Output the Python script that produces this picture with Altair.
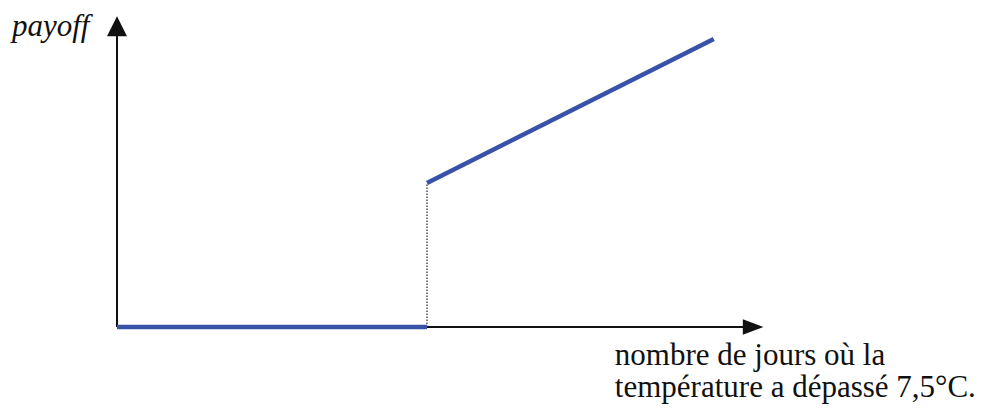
import altair as alt
import pandas as pd

# Payoff segments (x in days, y in payoff units)
seg_id = ["flat", "flat", "rise", "rise"]
seg_x = [0, 10, 10, 19.25]
seg_y = [0, 0, 5, 10]

# Strike marker (dotted vertical)
strike_x = [10]
strike_y0 = [0]
strike_y1 = [5]

# Axes
axis_x0 = [0, 0]
axis_y0 = [0, 0]
axis_x1 = [20.26, 0]
axis_y1 = [0, 10.2]

arrow_x = [20.52, 0]
arrow_y = [0, 10.44]
arrow_shape = ["M-1,-0.75L1,0L-1,0.75Z", "M-1,1L1,1L0,-1Z"]
arrow_size = [424, 400]

ylabel = ["payoff"]
ylabel_x = [-3.39]
ylabel_y = [10.10]

xlabel = ["nombre de jours où la", "température a dépassé 7,5°C."]
xlabel_x = [16.06, 16.06]
xlabel_y = [-1.33, -2.44]

xs = alt.Scale(domain=[-3.258, 27.645], nice=False, zero=False)
ys = alt.Scale(domain=[-2.396, 10.799], nice=False, zero=False)

axes_df = pd.DataFrame({"x": axis_x0, "y": axis_y0, "x2": axis_x1, "y2": axis_y1})
axes = alt.Chart(axes_df).mark_rule(color="#111111", strokeWidth=2).encode(
    x=alt.X("x:Q", scale=xs, axis=None),
    y=alt.Y("y:Q", scale=ys, axis=None),
    x2="x2:Q",
    y2="y2:Q",
)

arrows = []
for ax, ay, sh, sz in zip(arrow_x, arrow_y, arrow_shape, arrow_size):
    arrows.append(
        alt.Chart(pd.DataFrame({"x": [ax], "y": [ay]}))
        .mark_point(shape=sh, size=sz, filled=True, color="#111111", opacity=1, strokeWidth=0)
        .encode(x=alt.X("x:Q", scale=xs, axis=None), y=alt.Y("y:Q", scale=ys, axis=None))
    )

strike_df = pd.DataFrame({"x": strike_x, "y": strike_y0, "y2": strike_y1})
strike = alt.Chart(strike_df).mark_rule(color="#333333", strokeWidth=1.3, strokeDash=[1.5, 1.5]).encode(
    x=alt.X("x:Q", scale=xs, axis=None),
    y=alt.Y("y:Q", scale=ys, axis=None),
    y2="y2:Q",
)

pay_df = pd.DataFrame({"seg": seg_id, "x": seg_x, "y": seg_y, "o": list(range(len(seg_x)))})
payoff = alt.Chart(pay_df).mark_line(color="#3752A6", strokeWidth=4.5, strokeCap="butt").encode(
    x=alt.X("x:Q", scale=xs, axis=None),
    y=alt.Y("y:Q", scale=ys, axis=None),
    detail="seg:N",
    order="o:Q",
)

ylab = alt.Chart(pd.DataFrame({"t": ylabel, "x": ylabel_x, "y": ylabel_y})).mark_text(
    font="Liberation Serif", fontStyle="italic", fontSize=31, align="left", baseline="alphabetic", color="#111111"
).encode(x=alt.X("x:Q", scale=xs, axis=None), y=alt.Y("y:Q", scale=ys, axis=None), text="t:N")

xlab = alt.Chart(pd.DataFrame({"t": xlabel, "x": xlabel_x, "y": xlabel_y})).mark_text(
    font="Liberation Serif", fontSize=31, align="left", baseline="alphabetic", color="#111111"
).encode(x=alt.X("x:Q", scale=xs, axis=None), y=alt.Y("y:Q", scale=ys, axis=None), text="t:N")

chart = alt.layer(axes, strike, payoff, *arrows, ylab, xlab).properties(
    width=958, height=380, autosize=alt.AutoSizeParams(type="none"), padding=8, background="white"
).configure_view(stroke=None, strokeWidth=0)

chart.save("out.html", embed_options={"renderer": "svg", "actions": False})
